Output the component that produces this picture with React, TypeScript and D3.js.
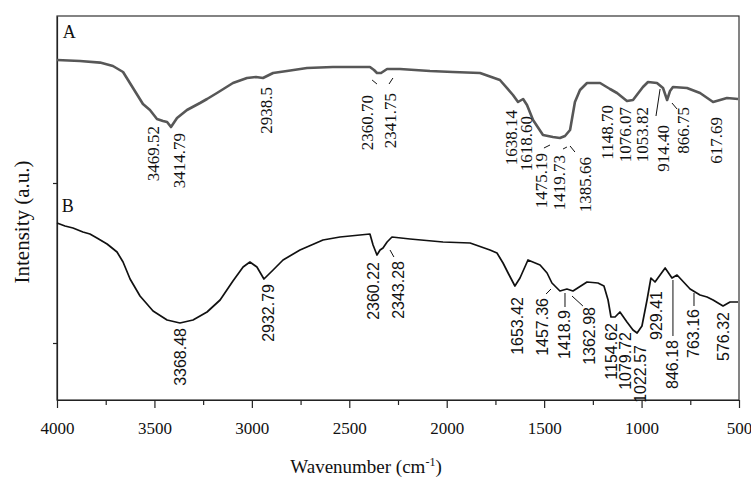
import { useRef, useEffect } from 'react';
import * as d3 from 'd3';

// spectrum A (grey) : wavenumber (cm-1) and intensity (a.u.)
const waveA = [4000, 3882, 3779, 3713, 3661, 3610, 3559, 3523, 3487, 3456, 3435, 3415, 3384, 3333, 3266, 3230, 3179, 3097, 3025, 2979, 2943, 2891, 2820, 2717, 2584, 2394, 2373, 2358, 2337, 2306, 2240, 2086, 1968, 1829, 1727, 1660, 1634, 1608, 1588, 1557, 1506, 1455, 1419, 1393, 1367, 1342, 1316, 1280, 1213, 1162, 1126, 1075, 1044, 993, 967, 921, 890, 869, 854, 839, 767, 700, 633, 597, 562, 505];
const intensityA = [85.25, 85.0, 84.6, 83.75, 82.25, 78.25, 74.25, 72.75, 70.5, 70.0, 69.75, 68.5, 70.75, 72.75, 74.5, 75.5, 77.0, 79.5, 80.75, 81.0, 80.75, 82.0, 82.5, 83.25, 83.5, 83.5, 82.75, 82.0, 82.0, 83.0, 83.0, 82.5, 82.25, 82.0, 80.25, 76.5, 74.75, 75.5, 74.0, 70.25, 66.5, 66.0, 65.75, 66.25, 67.75, 74.75, 77.75, 79.5, 79.5, 78.0, 77.0, 75.0, 75.25, 78.5, 79.75, 79.5, 78.25, 75.25, 77.5, 78.5, 78.25, 77.0, 74.75, 75.25, 75.75, 75.5];

// spectrum B (black)
const waveB = [4000, 3959, 3918, 3867, 3831, 3795, 3743, 3692, 3661, 3625, 3574, 3507, 3435, 3369, 3302, 3230, 3163, 3097, 3045, 3010, 2974, 2938, 2891, 2840, 2753, 2635, 2548, 2394, 2378, 2358, 2342, 2327, 2306, 2281, 2188, 2019, 1880, 1778, 1742, 1711, 1685, 1650, 1624, 1583, 1521, 1485, 1460, 1419, 1383, 1352, 1280, 1224, 1193, 1172, 1157, 1136, 1111, 1075, 1044, 1023, 998, 972, 952, 931, 879, 844, 818, 751, 700, 664, 633, 582, 546, 505];
const intensityB = [44.5, 43.75, 43.25, 42.25, 41.75, 40.75, 39.25, 37.25, 34.75, 30.5, 26.25, 22.5, 20.25, 19.5, 20.25, 22.25, 25.25, 30.0, 33.5, 34.75, 33.5, 30.5, 32.75, 35.25, 37.75, 40.25, 41.0, 41.75, 39.0, 36.5, 37.75, 38.25, 39.75, 41.0, 40.5, 39.75, 39.5, 37.75, 37.0, 34.5, 32.0, 28.75, 30.75, 35.25, 34.0, 32.0, 29.5, 27.5, 28.0, 27.5, 29.75, 29.5, 28.75, 25.25, 21.0, 21.0, 22.25, 19.75, 17.75, 17.0, 18.75, 25.25, 30.75, 29.75, 33.25, 30.75, 31.5, 28.0, 26.5, 26.0, 25.25, 23.75, 24.75, 24.75];

// peak labels: text, wavenumber of label centre, intensity at top end of label
const peakTextA = ['3469.52', '3414.79', '2938.5', '2360.70', '2341.75', '1638.14', '1618.60', '1475.19', '1419.73', '1385.66', '1148.70', '1076.07', '1053.82', '914.40', '866.75', '617.69'];
const peakPosA = [3507, 3369, 2927, 2409, 2291, 1665, 1588, 1511, 1419, 1290, 1177, 1085, 993, 885, 787, 613];
const peakTopA = [68.75, 67.0, 78.5, 76.5, 77.0, 72.75, 71.25, 62.0, 61.5, 61.0, 74.0, 73.5, 73.5, 69.0, 73.5, 71.0];

const peakTextB = ['3368.48', '2932.79', '2360.22', '2343.28', '1653.42', '1457.36', '1418.9', '1362.98', '1154.62', '1079.72', '1022.57', '929.41', '846.18', '763.16', '576.32'];
const peakPosB = [3364, 2917, 2378, 2250, 1639, 1506, 1393, 1265, 1152, 1085, 1008, 921, 839, 731, 577];
const peakTopB = [18.25, 29.25, 34.75, 35.0, 26.0, 25.75, 22.75, 23.5, 19.5, 17.25, 14.0, 27.5, 15.25, 23.0, 22.25];

// leader lines [w1, v1, w2, v2]
const leadersA = [
  [2383, 80.25, 2358, 79.25],
  [2296, 79.25, 2276, 80.75],
  [1501, 63.25, 1470, 64.0],
  [1403, 63.0, 1383, 63.5],
  [1367, 63.75, 1342, 62.25],
  [926, 71.25, 905, 78.0],
  [844, 74.5, 818, 73.0],
];
const leadersB = [
  [2291, 37.75, 2271, 36.0],
  [1490, 26.75, 1465, 28.0],
  [1393, 27.0, 1393, 23.5],
  [1357, 26.25, 1301, 23.75],
  [839, 30.25, 839, 16.25],
  [731, 27.0, 731, 23.75],
];

const majorTicks = [4000, 3500, 3000, 2500, 2000, 1500, 1000, 500];
const minorTicks = [3750, 3250, 2750, 2250, 1750, 1250, 750];
const yTicks = [14.5, 54.5];

const serif = '"Liberation Serif", "Times New Roman", serif';
const sans = '"Liberation Sans", Arial, sans-serif';

const App = () => {
  const svgRef = useRef<SVGSVGElement>(null);

  useEffect(() => {
    document.body.style.margin = '0';
    const svg = d3.select(svgRef.current);
    svg.selectAll('*').remove();

    const x = d3.scaleLinear().domain([4000, 500]).range([57, 739]);
    const y = d3.scaleLinear().domain([0.25, 96.25]).range([400, 16]);

    // frame
    svg.append('rect')
      .attr('x', x(4000)).attr('y', y(96.25))
      .attr('width', x(500) - x(4000)).attr('height', y(0.25) - y(96.25))
      .attr('fill', 'none').attr('stroke', '#333').attr('stroke-width', 1.2);

    // x axis
    const gx = svg.append('g').attr('transform', `translate(0,${y(0.25)})`);
    gx.call(d3.axisBottom(x).tickValues(majorTicks).tickSize(8).tickSizeOuter(0).tickPadding(14).tickFormat(d3.format('d')));
    gx.attr('font-family', null).attr('font-size', null);
    gx.selectAll('text').style('font-family', serif).style('font-size', '17px').attr('fill', '#111');
    gx.selectAll('line, path').attr('stroke', '#222').attr('stroke-width', 1.2);

    const gm = svg.append('g').attr('transform', `translate(0,${y(0.25)})`);
    gm.call(d3.axisBottom(x).tickValues(minorTicks).tickSize(5).tickSizeOuter(0).tickFormat(() => ''));
    gm.select('.domain').remove();
    gm.selectAll('line').attr('stroke', '#222').attr('stroke-width', 1.2);

    // y axis
    const gy = svg.append('g').attr('transform', `translate(${x(4000)},0)`);
    gy.call(d3.axisLeft(y).tickValues(yTicks).tickSize(4).tickSizeOuter(0).tickFormat(() => ''));
    gy.selectAll('line, path').attr('stroke', '#222').attr('stroke-width', 1.2);

    // spectra
    const line = d3.line<[number, number]>().x(d => x(d[0])).y(d => y(d[1]));
    svg.append('path')
      .datum(waveA.map((w, i) => [w, intensityA[i]] as [number, number]))
      .attr('d', line).attr('fill', 'none')
      .attr('stroke', '#575757').attr('stroke-width', 2.6).attr('stroke-linejoin', 'round');
    svg.append('path')
      .datum(waveB.map((w, i) => [w, intensityB[i]] as [number, number]))
      .attr('d', line).attr('fill', 'none')
      .attr('stroke', '#111').attr('stroke-width', 1.7).attr('stroke-linejoin', 'round');

    // peak labels
    const addLabels = (texts: string[], pos: number[], top: number[], font: string, size: number) => {
      texts.forEach((t, i) => {
        const px = x(pos[i]);
        const py = y(top[i]);
        svg.append('text')
          .attr('transform', `translate(${px},${py}) rotate(-90)`)
          .attr('text-anchor', 'end')
          .attr('dominant-baseline', 'central')
          .style('font-family', font).style('font-size', `${size}px`).attr('fill', '#111')
          .text(t);
      });
    };
    addLabels(peakTextA, peakPosA, peakTopA, serif, 17);
    addLabels(peakTextB, peakPosB, peakTopB, sans, 16);

    [...leadersA, ...leadersB].forEach(l => {
      svg.append('line')
        .attr('x1', x(l[0])).attr('y1', y(l[1]))
        .attr('x2', x(l[2])).attr('y2', y(l[3]))
        .attr('stroke', '#111').attr('stroke-width', 1);
    });

    // panel letters
    svg.append('text').attr('x', x(3970)).attr('y', y(90.75))
      .style('font-family', serif).style('font-size', '18px').attr('fill', '#111').text('A');
    svg.append('text').attr('x', x(3975)).attr('y', y(47.25))
      .style('font-family', serif).style('font-size', '18px').attr('fill', '#111').text('B');

    // axis titles
    const xt = svg.append('text').attr('x', 366).attr('y', 473)
      .attr('text-anchor', 'middle').style('font-family', serif).style('font-size', '19px').attr('fill', '#111');
    xt.append('tspan').text('Wavenumber (cm');
    xt.append('tspan').attr('dy', -7).style('font-size', '12px').text('-1');
    xt.append('tspan').attr('dy', 7).text(')');

    svg.append('text')
      .attr('transform', 'translate(22,222) rotate(-90)')
      .attr('text-anchor', 'middle').attr('dominant-baseline', 'central')
      .style('font-family', serif).style('font-size', '21px').attr('fill', '#111')
      .text('Intensity (a.u.)');
  }, []);

  return <svg ref={svgRef} width="751" height="477" style={{ display: 'block', background: '#fff' }}></svg>;
};

export default App;
